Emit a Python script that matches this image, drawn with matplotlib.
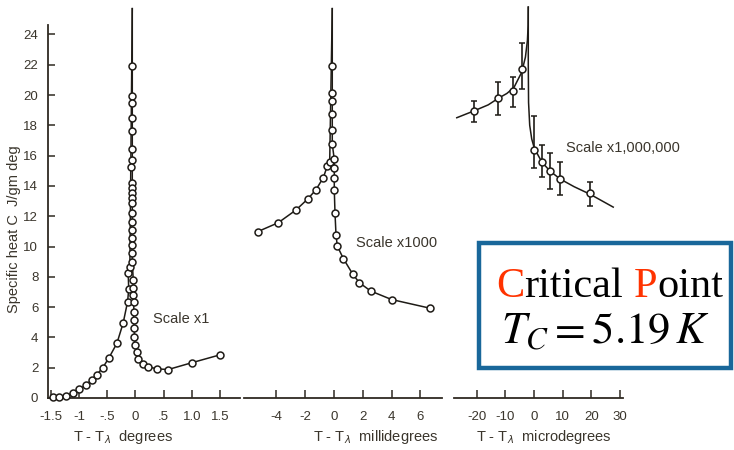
import numpy as np
import matplotlib.pyplot as plt
from matplotlib.patches import Rectangle

plt.rcParams['font.family'] = ['Liberation Sans', 'DejaVu Sans']

# ---- panel 1 : scale x1 (degrees)
p1_left_x = [-1.46, -1.35, -1.23, -1.11, -1.00, -0.88, -0.78, -0.69, -0.58, -0.47,
             -0.33, -0.22, -0.14, -0.12, -0.13, -0.10]
p1_left_y = [0.05, 0.09, 0.13, 0.35, 0.57, 0.86, 1.19, 1.52, 2.00, 2.66,
             3.61, 4.93, 6.36, 7.20, 8.23, 8.67]
p1_mid_x = [-0.057] * 19 + [-0.085]
p1_mid_y = [21.93, 19.95, 19.47, 18.48, 17.62, 16.43, 15.71, 14.17, 13.86, 13.53,
            13.20, 12.87, 12.21, 11.62, 11.09, 10.56, 10.10, 9.57, 8.98, 15.27]
p1_right_x = [-0.04, -0.04, -0.04, -0.03, -0.03, -0.03, -0.02, -0.02, -0.01, 0.02,
              0.05, 0.13, 0.23, 0.39, 0.58, 1.00, 1.49]
p1_right_y = [7.80, 7.25, 6.80, 6.35, 5.70, 5.15, 4.60, 4.05, 3.50, 3.05,
              2.60, 2.25, 2.05, 1.92, 1.88, 2.33, 2.84]
p1_peak = (-0.057, 25.7)
p1_ticks = [-1.5, -1, -0.5, 0, 0.5, 1.0, 1.5]
p1_ticklabels = ['-1.5', '-1', '-.5', '0', '.5', '1.0', '1.5']

# ---- panel 2 : scale x1000 (millidegrees)
p2_left_x = [-5.30, -3.87, -2.64, -1.83, -1.25, -0.74, -0.46, -0.30]
p2_left_y = [10.98, 11.57, 12.41, 13.13, 13.75, 14.55, 15.33, 15.55]
p2_mid_x = [-0.12] * 6
p2_mid_y = [21.93, 20.10, 19.60, 18.72, 17.69, 16.75]
p2_right_x = [0.02, 0.02, 0.02, 0.02, 0.07, 0.14, 0.23, 0.65, 1.30, 1.76, 2.55, 4.00, 6.70]
p2_right_y = [15.75, 15.16, 14.54, 13.73, 12.19, 10.76, 10.03, 9.20, 8.18, 7.61, 7.06, 6.50, 5.92]
p2_peak = (-0.12, 25.7)
p2_ticks = [-4, -2, 0, 2, 4, 6]

# ---- panel 3 : scale x1,000,000 (microdegrees)
p3_x = [-21.0, -12.5, -7.2, -4.2, 0.1, 2.8, 5.6, 9.1, 19.6]
p3_y = [18.94, 19.78, 20.28, 21.70, 16.37, 15.56, 14.98, 14.46, 13.51]
p3_err_lo = [0.74, 1.10, 1.05, 1.30, 1.17, 0.99, 1.18, 1.06, 0.84]
p3_err_hi = [0.66, 1.10, 0.92, 1.70, 2.23, 1.14, 1.22, 1.10, 0.77]
p3_curve_left_x = [-27.0, -21.0, -16.0, -12.5, -9.5, -7.0, -4.3, -3.0, -2.3, -2.05, -2.0]
p3_curve_left_y = [18.50, 18.95, 19.35, 19.78, 20.10, 20.50, 21.50, 22.50, 23.60, 24.60, 25.8]
p3_curve_right_x = [-2.0, -2.0, -1.9, -1.5, -0.8, 0.1, 1.5, 2.8, 5.6, 9.1, 14.0, 19.6, 27.7]
p3_curve_right_y = [25.8, 22.0, 19.5, 18.0, 17.1, 16.5, 16.0, 15.56, 14.98, 14.46, 13.95, 13.45, 12.6]
p3_ticks = [-20, -10, 0, 10, 20, 30]

y_ticks = list(range(0, 25, 2))

W, H = 734, 450
AXIS_COL = '#2f2a22'
TEXT_COL = '#3a352c'
LINE_COL = '#1e1b16'


def fx(x):
    return x / W


def fy(y):
    return 1 - y / H


fig = plt.figure(figsize=(W / 100, H / 100), dpi=100)


def make_axes(left, right, xlim):
    # y = 0 sits at pixel 398, 15.15 px per unit
    ax = fig.add_axes([fx(left), fy(398), (right - left) / W, 398 / H])
    ax.set_xlim(xlim)
    ax.set_ylim(0, 398 / 15.15)
    ax.patch.set_visible(False)
    for s in ['top', 'right', 'left']:
        ax.spines[s].set_visible(False)
    ax.spines['bottom'].set_color(AXIS_COL)
    ax.spines['bottom'].set_linewidth(1.3)
    ax.tick_params(axis='x', direction='in', length=6, width=1.1, pad=9,
                   color=AXIS_COL, labelcolor=TEXT_COL, labelsize=9.5)
    ax.set_yticks([])
    return ax


def draw_branch(ax, xs, ys):
    ax.plot(xs, ys, 'o', ms=5, mfc='white', mec=LINE_COL, mew=1.1, zorder=3, clip_on=False)


ax1 = make_axes(48, 240, ((48 - 135.5) / 56.4, (240 - 135.5) / 56.4))
ax2 = make_axes(244, 442, ((244 - 334) / 14.4, (442 - 334) / 14.4))
ax3 = make_axes(454, 623, ((454 - 534) / 2.86, (623 - 534) / 2.86))

# panel 1
ax1.spines['left'].set_visible(True)
ax1.spines['left'].set_color(AXIS_COL)
ax1.spines['left'].set_linewidth(1.3)
ax1.spines['left'].set_bounds(0, 24.6)
ax1.set_yticks(y_ticks)
ax1.set_yticklabels([str(v) for v in y_ticks])
ax1.tick_params(axis='y', direction='in', length=5, width=1.1, pad=7,
                color=AXIS_COL, labelcolor=TEXT_COL, labelsize=9.5)
ax1.set_xticks(p1_ticks)
ax1.set_xticklabels(p1_ticklabels)
ax1.plot(p1_left_x + [p1_peak[0]], p1_left_y + [p1_peak[1]], color=LINE_COL, lw=1.1)
ax1.plot([p1_peak[0]] + p1_mid_x[:19] + p1_right_x, [p1_peak[1]] + p1_mid_y[:19] + p1_right_y,
         color=LINE_COL, lw=1.1)
draw_branch(ax1, p1_left_x, p1_left_y)
draw_branch(ax1, p1_mid_x, p1_mid_y)
draw_branch(ax1, p1_right_x, p1_right_y)

# panel 2
ax2.set_xticks(p2_ticks)
ax2.set_xticklabels([str(v) for v in p2_ticks])
ax2.plot(p2_left_x + [p2_peak[0]], p2_left_y + [p2_peak[1]], color=LINE_COL, lw=1.1)
ax2.plot([p2_peak[0]] + p2_mid_x + p2_right_x, [p2_peak[1]] + p2_mid_y + p2_right_y,
         color=LINE_COL, lw=1.1)
draw_branch(ax2, p2_left_x, p2_left_y)
draw_branch(ax2, p2_mid_x, p2_mid_y)
draw_branch(ax2, p2_right_x, p2_right_y)

# panel 3
ax3.set_xticks(p3_ticks)
ax3.set_xticklabels([str(v) for v in p3_ticks])
ax3.plot(p3_curve_left_x, p3_curve_left_y, color=LINE_COL, lw=1.1)
ax3.plot(p3_curve_right_x, p3_curve_right_y, color=LINE_COL, lw=1.1)
ax3.errorbar(p3_x, p3_y, yerr=[p3_err_lo, p3_err_hi], fmt='o', ms=5, mfc='white',
             mec=LINE_COL, mew=1.1, ecolor=LINE_COL, elinewidth=1.2, capsize=2.5,
             capthick=1.2, zorder=3)

# labels
lab = dict(color=TEXT_COL, fontsize=10.5, ha='center', va='center')
fig.text(fx(123), fy(437), r'T - T$_\lambda$  degrees', **lab)
fig.text(fx(376), fy(437), r'T - T$_\lambda$  millidegrees', **lab)
fig.text(fx(544), fy(437), r'T - T$_\lambda$  microdegrees', **lab)
fig.text(fx(14), fy(229), 'Specific heat C  J/gm deg', rotation=90, **lab)

fig.text(fx(153), fy(319), 'Scale x1', color=TEXT_COL, fontsize=10.5, va='center')
fig.text(fx(356), fy(243), 'Scale x1000', color=TEXT_COL, fontsize=10.5, va='center')
fig.text(fx(566), fy(148), 'Scale x1,000,000', color=TEXT_COL, fontsize=10.5, va='center')

# critical point box
fig.patches.append(Rectangle((fx(479), fy(368)), (731 - 479) / W, (368 - 243) / H,
                             transform=fig.transFigure, fill=False,
                             edgecolor='#19679a', linewidth=3.2))

renderer = fig.canvas.get_renderer()
FS = 30.5
serif = dict(family=['Liberation Serif', 'DejaVu Serif'], fontsize=FS, va='baseline')
red = '#ff3300'
space = 0.25 * FS * 100 / 72 / W   # width of a space in figure fraction


def text_width(s):
    t = fig.text(0, 0, s, **serif)
    w = t.get_window_extent(renderer).width / W
    t.remove()
    return w


x0 = fx(496)
yb = fy(297)
fig.text(x0, yb, 'C', color=red, **serif)
fig.text(x0 + text_width('C'), yb, 'ritical', color='black', **serif)
xp = x0 + text_width('Critical') + space
fig.text(xp, yb, 'P', color=red, **serif)
fig.text(xp + text_width('P'), yb, 'oint', color='black', **serif)

fig.text(fx(501), fy(343), r'$T_C = 5.19\,K$', color='black', fontsize=32,
         va='baseline', math_fontfamily='stix')

fig.savefig('out.png', dpi=100)
